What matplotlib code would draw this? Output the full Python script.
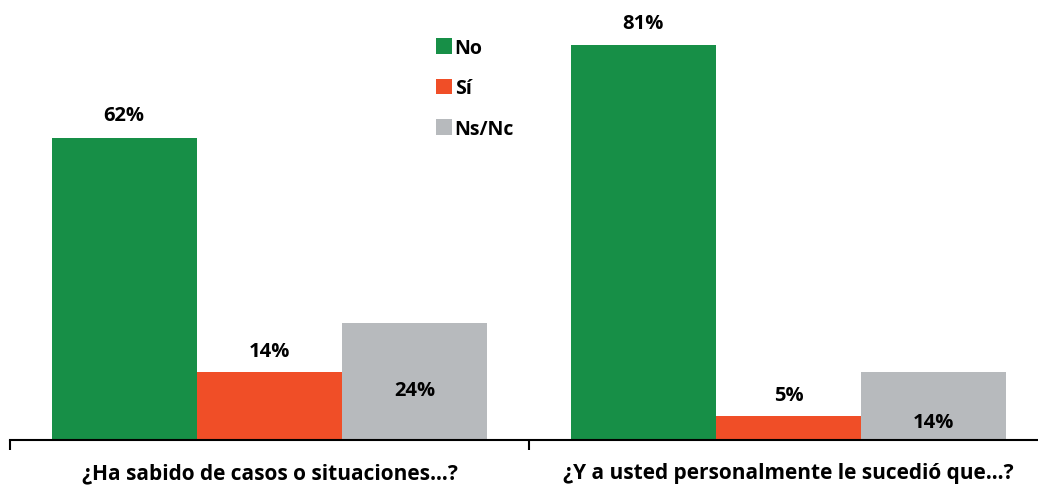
import numpy as np
import matplotlib.pyplot as plt
from matplotlib.patches import Patch

plt.rcParams["font.family"] = ["Open Sans", "DejaVu Sans"]
plt.rcParams["font.weight"] = "bold"

# ---- Data ----
questions = ["¿Ha sabido de casos o situaciones…?",
             "¿Y a usted personalmente le sucedió que…?"]
series = ["No", "Sí", "Ns/Nc"]
no_vals = [62, 81]
si_vals = [14, 5]
nsnc_vals = [24, 14]
colors = ["#178F47", "#F04E27", "#B7BABD"]

# ---- Figure ----
fig = plt.figure(figsize=(10.38, 4.89), dpi=100)
ax = fig.add_axes([10 / 1038, 48 / 489, 1038 / 1038, 441 / 489])

x = np.arange(len(questions))
w = 0.28
ax.bar(x - w, no_vals, w, color=colors[0])
ax.bar(x, si_vals, w, color=colors[1])
ax.bar(x + w, nsnc_vals, w, color=colors[2])

ax.set_xlim(-0.5, 1.5)
ax.set_ylim(0, 90.4)

# value labels
fs = 14.5
for i in x:
    ax.annotate(f"{no_vals[i]}%", (i - w, no_vals[i]), xytext=(0, 16),
                textcoords="offset points", ha="center", va="center",
                fontsize=fs, fontweight="bold")
    ax.annotate(f"{si_vals[i]}%", (i, si_vals[i]), xytext=(0, 15),
                textcoords="offset points", ha="center", va="center",
                fontsize=fs, fontweight="bold")
# Ns/Nc labels sit inside the bars
ax.text(0 + w, 10.3, f"{nsnc_vals[0]}%", ha="center", va="center",
        fontsize=fs, fontweight="bold")
ax.text(1 + w, 3.7, f"{nsnc_vals[1]}%", ha="center", va="center",
        fontsize=fs, fontweight="bold")

# axes styling
for s in ["left", "right", "top"]:
    ax.spines[s].set_visible(False)
ax.spines["bottom"].set_linewidth(1.5)
ax.set_yticks([])
ax.set_xticks(x)
ax.set_xticklabels(questions, fontsize=15, fontweight="bold")
ax.tick_params(axis="x", which="major", length=0, pad=16)
ax.set_xticks([-0.5, 0.5, 1.5], minor=True)
ax.tick_params(axis="x", which="minor", length=7, width=1.5, direction="out")

# legend
handles = [Patch(facecolor=c, label=l) for c, l in zip(colors, series)]
fig.legend(handles=handles, loc="upper left",
           bbox_to_anchor=(428 / 1038, 1 - 31 / 489), frameon=False,
           fontsize=14, handlelength=0.85, handleheight=0.85,
           handletextpad=0.12, labelspacing=1.05, borderaxespad=0)

fig.savefig("out.png", dpi=100)
